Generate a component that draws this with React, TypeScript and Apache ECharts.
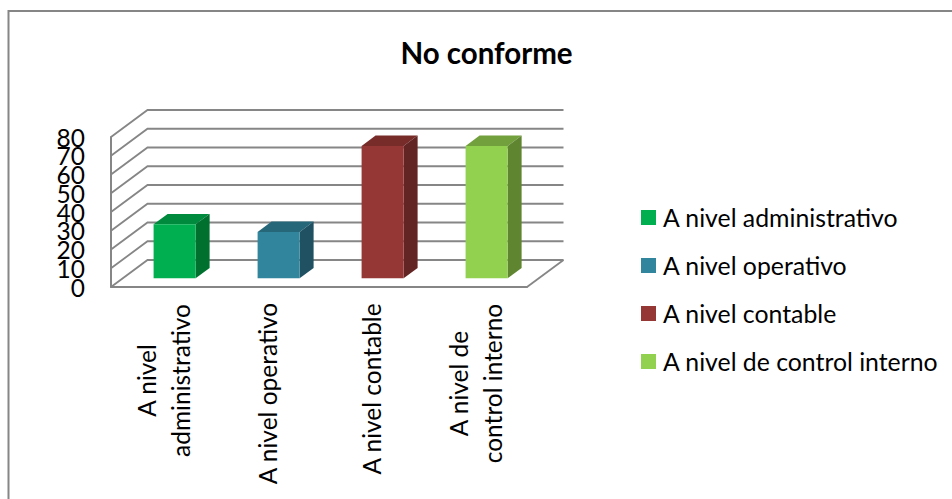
import React, { useEffect, useRef } from "react";
import * as echarts from "echarts";

const categories = ["A nivel administrativo", "A nivel operativo", "A nivel contable", "A nivel de control interno"];
const axisLines = [["A nivel", "administrativo"], ["A nivel operativo"], ["A nivel contable"], ["A nivel de", "control interno"]];
const labelWidths = [155, 181, 172, 161];
const values = [28.8, 24.7, 70.6, 70.6];
const frontColors = ["#00B050", "#31859C", "#953735", "#92D050"];
const topColors = ["#008A3E", "#26687A", "#772C2A", "#72A03C"];
const sideColors = ["#00702F", "#1F5163", "#632523", "#5F8530"];
const yTicks = [0, 10, 20, 30, 40, 50, 60, 70, 80];
const yTicksEven = [0, 20, 40, 60, 80];
const yTicksOdd = [10, 30, 50, 70];

const FONT = "Lato, Carlito, sans-serif";
const TEXT_SIZE = 24.5;
const GRAY = "#868686";
// Depth of the floor and side wall, and of each column, in pixels.
const WALL_DX = 36.5;
const WALL_DY = 27;
const BAR_INSET_X = 11.6;
const BAR_INSET_Y = 8.7;
const BAR_DX = 14;
const BAR_DY = 10.4;
const BAR_RATIO = 0.404;

// The tick labels sit closer together than their line boxes, so they are split
// over two coincident axes to keep the library from dropping any of them.
const valueAxis = (customValues: number[], showLine: boolean) => ({
  type: "value",
  min: 0,
  max: 80,
  interval: 10,
  position: "left",
  axisLine: { show: showLine, onZero: false, lineStyle: { color: GRAY, width: 2 } },
  axisTick: { show: false },
  splitLine: { show: false },
  axisLabel: {
    margin: 26,
    color: "#000",
    fontFamily: FONT,
    fontSize: TEXT_SIZE,
    customValues,
    hideOverlap: false,
  },
});

function App() {
  const ref = useRef<HTMLDivElement>(null);
  useEffect(() => {
    const chart = echarts.init(ref.current!, undefined, { renderer: "svg" });

    // Back wall, side wall and floor: one polyline per value tick.
    const wallSeries = {
      type: "custom",
      coordinateSystem: "cartesian2d",
      silent: true,
      z: 1,
      data: yTicks.map((t) => [0, t]),
      encode: { x: 0, y: 1 },
      renderItem: (params: any, api: any) => {
        const v = api.value(1);
        const grid = params.coordSys;
        const y = api.coord([0, v])[1];
        const x0 = grid.x;
        const x1 = grid.x + grid.width;
        const children: any[] = [
          {
            type: "polyline",
            shape: { points: [[x0, y], [x0 + WALL_DX, y - WALL_DY], [x1 + WALL_DX, y - WALL_DY]] },
            style: { fill: "none", stroke: GRAY, lineWidth: 1.8 },
          },
        ];
        if (v === 0) {
          children.push({
            type: "line",
            shape: { x1, y1: y, x2: x1 + WALL_DX, y2: y - WALL_DY },
            style: { stroke: GRAY, lineWidth: 1.8 },
          });
        }
        return { type: "group", children };
      },
    };

    const barSeries = categories.map((name, i) => ({
      type: "custom",
      name,
      coordinateSystem: "cartesian2d",
      z: 3,
      itemStyle: { color: frontColors[i] },
      data: [[i, values[i]]],
      encode: { x: 0, y: 1 },
      renderItem: (_: any, api: any) => {
        const idx = api.value(0);
        const top = api.coord([idx, api.value(1)]);
        const base = api.coord([idx, 0]);
        const w = api.size([1, 0])[0] * BAR_RATIO;
        const l = top[0] + BAR_INSET_X - w / 2;
        const r = l + w;
        const t = top[1] - BAR_INSET_Y;
        const b = base[1] - BAR_INSET_Y;
        return {
          type: "group",
          children: [
            {
              type: "polygon",
              shape: { points: [[l, t], [r, t], [r + BAR_DX, t - BAR_DY], [l + BAR_DX, t - BAR_DY]] },
              style: { fill: topColors[i] },
            },
            {
              type: "polygon",
              shape: { points: [[r, t], [r + BAR_DX, t - BAR_DY], [r + BAR_DX, b - BAR_DY], [r, b]] },
              style: { fill: sideColors[i] },
            },
            { type: "rect", shape: { x: l, y: t, width: w, height: b - t }, style: { fill: frontColors[i] } },
          ],
        };
      },
    }));

    const rich: Record<string, any> = {};
    labelWidths.forEach((width, i) => {
      rich["c" + i] = { width, align: "center", fontFamily: FONT, fontSize: TEXT_SIZE, lineHeight: 34, color: "#000" };
    });

    chart.setOption({
      animation: false,
      backgroundColor: "#fff",
      title: {
        text: "No conforme",
        left: 481.5,
        top: 32,
        textAlign: "center",
        textStyle: { fontFamily: FONT, fontSize: 29.5, fontWeight: "bold", color: "#000" },
      },
      legend: {
        data: categories,
        orient: "vertical",
        left: 636,
        top: 200,
        icon: "rect",
        itemWidth: 15,
        itemHeight: 15,
        itemGap: 23,
        selectedMode: false,
        textStyle: { fontFamily: FONT, fontSize: 24.8, color: "#000", padding: [0, 0, 0, 2] },
      },
      grid: { left: 111, top: 137, width: 416, height: 150, containLabel: false },
      xAxis: {
        type: "category",
        data: categories,
        axisLine: { show: true, lineStyle: { color: GRAY, width: 2 } },
        axisTick: { show: false },
        axisLabel: {
          interval: 0,
          rotate: 90,
          margin: 16,
          color: "#000",
          fontFamily: FONT,
          fontSize: TEXT_SIZE,
          formatter: (_: string, i: number) => axisLines[i].map((line) => `{c${i}|${line}}`).join("\n"),
          rich,
        },
      },
      yAxis: [valueAxis(yTicksEven, true), valueAxis(yTicksOdd, false)],
      graphic: [
        {
          type: "polyline",
          silent: true,
          shape: { points: [[8.5, 499], [8.5, 11], [952, 11]] },
          style: { fill: "none", stroke: GRAY, lineWidth: 2 },
        },
      ],
      series: [wallSeries, ...barSeries],
    });
    return () => chart.dispose();
  }, []);
  return <div ref={ref} style={{ position: "fixed", left: 0, top: 0, width: 952, height: 499 }} />;
}

export default App;
